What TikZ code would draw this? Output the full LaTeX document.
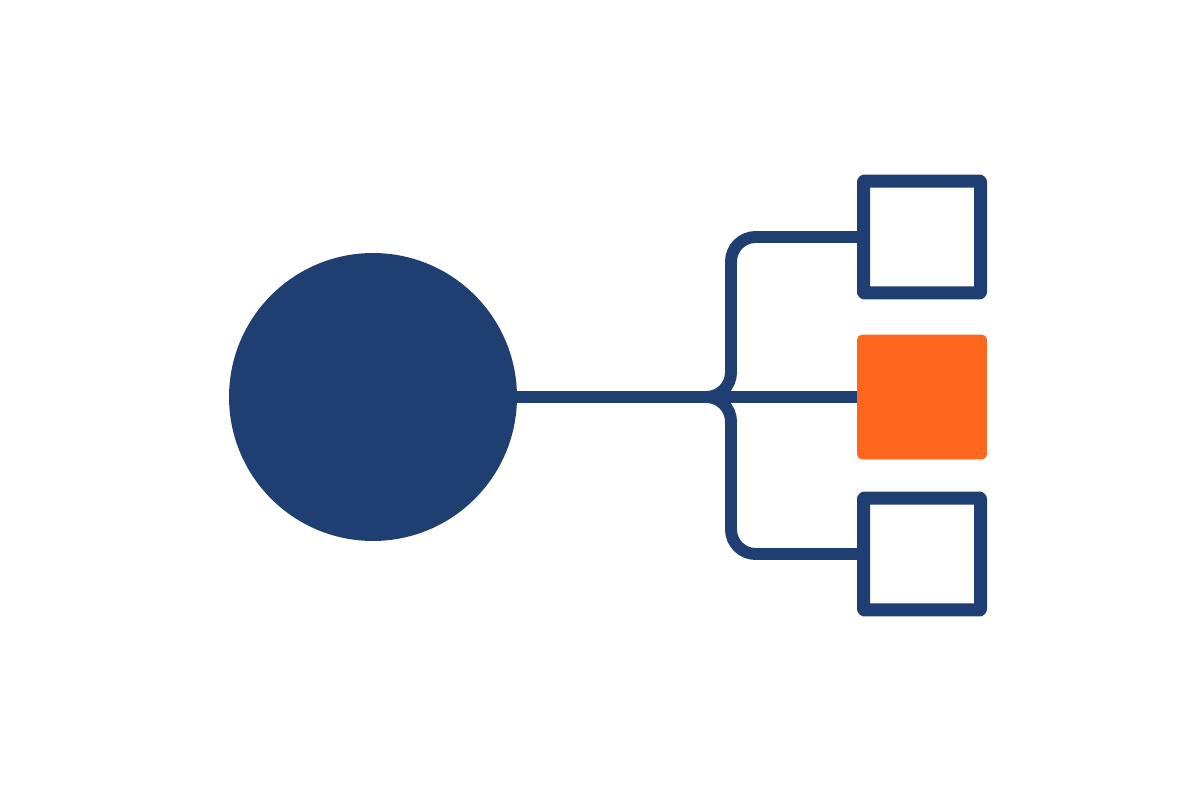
\documentclass[tikz,border=0pt]{standalone}
\usetikzlibrary{positioning}
\definecolor{navy}{RGB}{31,63,115}
\definecolor{tangerine}{RGB}{255,104,28}

\begin{document}
\begin{tikzpicture}[x=0.02cm,y=-0.02cm,line width=6.8pt,draw=navy,
					hub node/.style={circle,fill=navy,minimum size=5.76cm,inner sep=0pt,outer sep=0pt},
					leaf node/.style={rectangle,draw=navy,line width=7.4pt,line join=round,rounded corners=0.5pt,minimum width=2.34cm,minimum height=2.24cm,inner sep=0pt,outer sep=0pt},
					picked node/.style={rectangle,fill=tangerine,rounded corners=3pt,minimum width=2.6cm,minimum height=2.5cm,inner sep=0pt,outer sep=0pt}]
				\useasboundingbox[fill=white] (0,0) rectangle (1200,800);

				\node[hub node] (H) at (373,397) {};
				\node[picked node] (M) at (922,397) {};
				\node[leaf node] (T) at (922,237) {};
				\node[leaf node] (B) at (922,554) {};

				\coordinate (F) at (731,397);
				\coordinate (J) at (695,397);

				\path[draw=navy]
				(H) edge (M);
				\draw[navy,rounded corners=14pt] (T.west) -| (F) -- (J);
				\draw[navy,rounded corners=14pt] (B.west) -| (F) -- (J);
			\end{tikzpicture}
\end{document}
